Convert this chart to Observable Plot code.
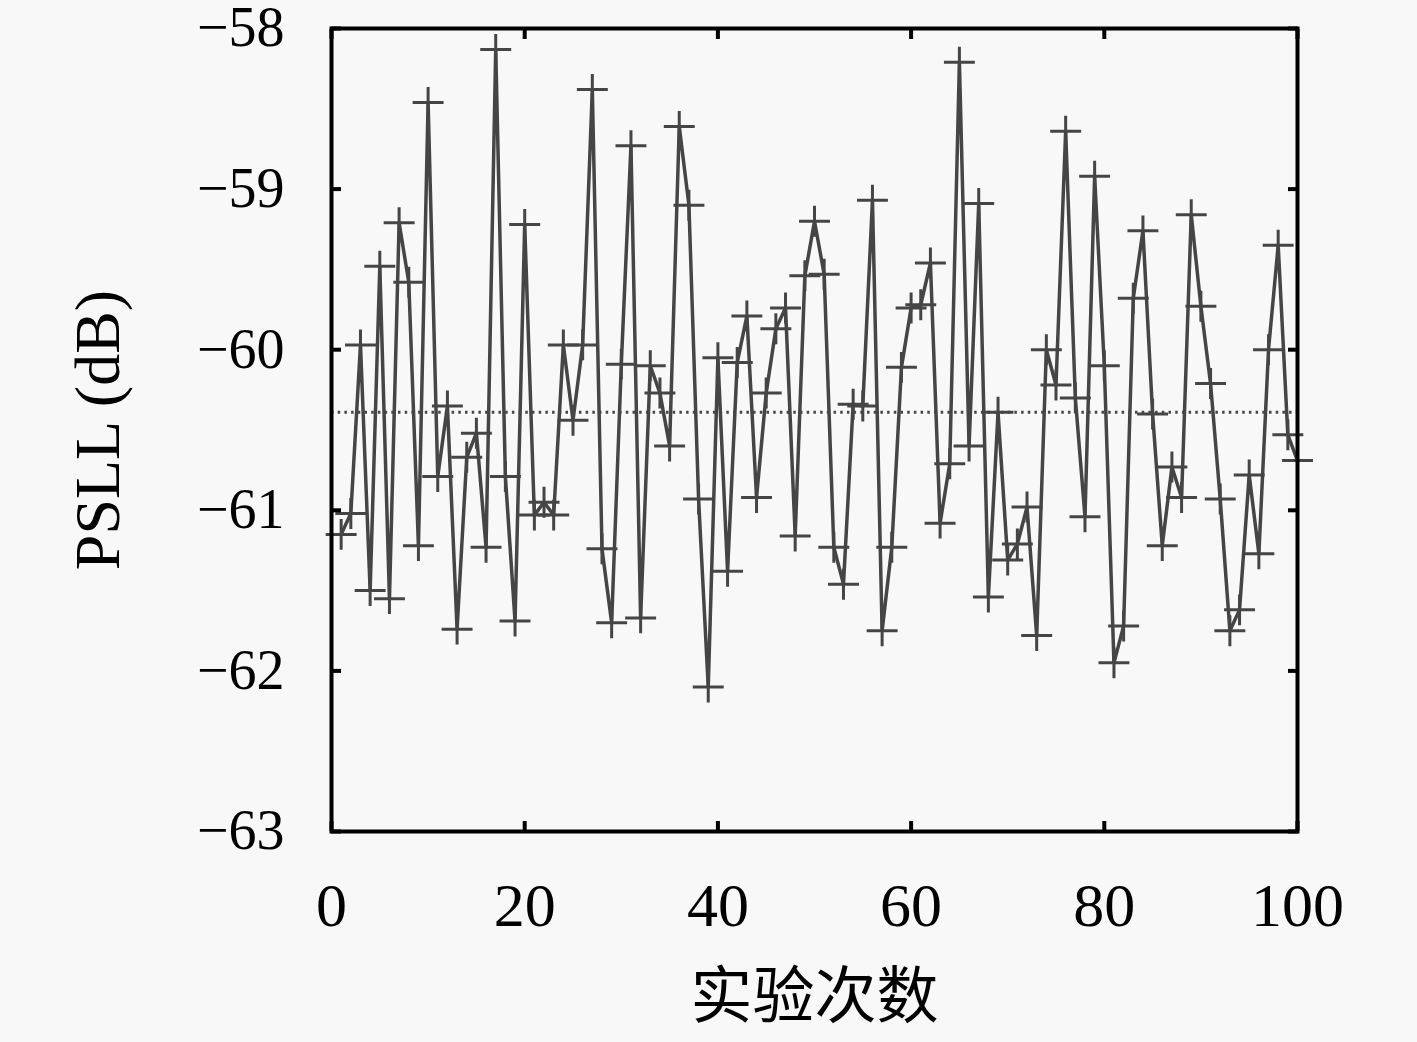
<!DOCTYPE html>
<html>
<head>
<meta charset="utf-8">
<script src="https://cdn.jsdelivr.net/npm/d3@7"></script>
<script src="https://cdn.jsdelivr.net/npm/@observablehq/plot@0.6"></script>
<style>
  html, body { margin: 0; padding: 0; background: #f8f8f8; }
  #chart svg { display: block; }
</style>
</head>
<body>
<div id="chart"></div>
<script>
// Trial index 1..100
const trials = d3.range(1, 101);
// PSLL (dB) for each trial
const psll = [
  -61.15, -61.02, -59.97, -61.50, -59.48, -61.55, -59.21, -59.58, -61.22, -58.46,
  -60.79, -60.35, -61.74, -60.67, -60.52, -61.23, -58.13, -60.79, -61.69, -59.22,
  -61.03, -60.95, -61.03, -59.97, -60.44, -59.97, -58.38, -61.24, -61.70, -60.09,
  -58.73, -61.67, -60.10, -60.27, -60.60, -58.61, -59.10, -60.93, -62.10, -60.05,
  -61.38, -60.08, -59.79, -60.92, -60.27, -59.87, -59.74, -61.16, -59.54, -59.20,
  -59.53, -61.23, -61.46, -60.34, -60.35, -59.07, -61.75, -61.23, -60.11, -59.74,
  -59.72, -59.46, -61.08, -60.71, -58.21, -60.60, -59.09, -61.54, -60.39, -61.31,
  -61.21, -60.98, -61.78, -60.00, -60.22, -58.64, -60.30, -61.04, -58.92, -60.10,
  -61.95, -61.72, -59.68, -59.26, -60.40, -61.22, -60.73, -60.92, -59.16, -59.73,
  -60.21, -60.93, -61.75, -61.62, -60.78, -61.27, -60.00, -59.35, -60.53, -60.69
];
// Mean level (dotted line)
const meanLevel = [-60.39];
// Axis ticks
const xTicks = [0, 20, 40, 60, 80, 100];
const yTicks = [-63, -62, -61, -60, -59, -58];
const xLabel = "实验次数";
const yLabel = "PSLL (dB)";

const data = trials.map((t, i) => ({trial: t, value: psll[i]}));
const fmtY = d => (d < 0 ? "\u2212" + Math.abs(d) : String(d));
const numFont = "'Liberation Serif', 'DejaVu Serif', serif";
const lineColor = "#454545";

const chart = Plot.plot({
  width: 1417,
  height: 1042,
  marginLeft: 331,
  marginRight: 120,
  marginTop: 28,
  marginBottom: 211,
  style: {background: "#f8f8f8", color: "black", fontFamily: numFont},
  x: {domain: [0, 100], ticks: xTicks},
  y: {domain: [-63, -58], ticks: yTicks},
  marks: [
    Plot.ruleY(meanLevel, {stroke: lineColor, strokeWidth: 3, strokeDasharray: "2.5,4.2"}),
    Plot.line(data, {x: "trial", y: "value", stroke: lineColor, strokeWidth: 3.5}),
    Plot.dot(data, {x: "trial", y: "value", symbol: "plus", r: 10, stroke: lineColor, strokeWidth: 3}),
    // inward ticks on all four sides
    Plot.axisX(xTicks, {anchor: "bottom", tickSize: -10, strokeWidth: 4, text: null, label: null}),
    Plot.axisX(xTicks, {anchor: "top", tickSize: -10, strokeWidth: 4, text: null, label: null}),
    Plot.axisY(yTicks, {anchor: "left", tickSize: -10, strokeWidth: 4, text: null, label: null}),
    Plot.axisY(yTicks, {anchor: "right", tickSize: -10, strokeWidth: 4, text: null, label: null}),
    // tick labels
    Plot.axisX(xTicks, {anchor: "bottom", tickSize: 0, tickPadding: 50, fontSize: 62, fontFamily: numFont, label: null}),
    Plot.axisY(yTicks, {anchor: "left", tickSize: 0, tickPadding: 47, fontSize: 56, fontFamily: numFont, tickFormat: fmtY, label: null}),
    // axis titles
    Plot.axisX([], {anchor: "bottom", tickSize: 0, label: xLabel, labelArrow: "none", labelAnchor: "center", labelOffset: 186, fontSize: 62, fontFamily: "'Noto Sans CJK SC', sans-serif"}),
    Plot.axisY([], {anchor: "left", tickSize: 0, label: yLabel, labelArrow: "none", labelAnchor: "center", labelOffset: 258, fontSize: 64, fontFamily: numFont}),
    Plot.frame({stroke: "black", strokeWidth: 4})
  ]
});
document.getElementById("chart").appendChild(chart);
</script>
</body>
</html>
